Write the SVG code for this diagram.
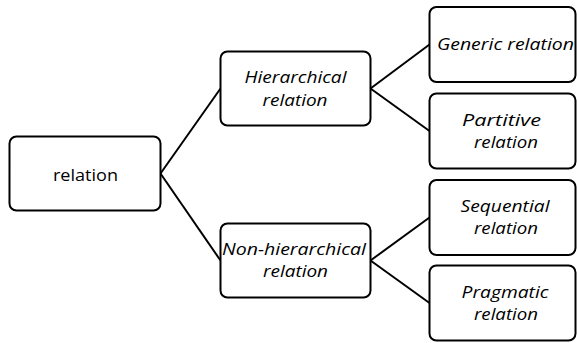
<svg xmlns="http://www.w3.org/2000/svg" width="577" height="343" viewBox="0 0 577 343">
  <style>
    .box { fill: #ffffff; stroke: #000000; stroke-width: 2; }
    .edge { fill: none; stroke: #000000; stroke-width: 2; }
    text { font-family: "Open Sans", "Liberation Sans", sans-serif; font-size: 17px; fill: #000000; text-anchor: middle; }
    .it { font-style: italic; }
  </style>
  <rect width="577" height="343" fill="#ffffff"/>

  <!-- tree connectors -->
  <g id="connectors">
    <line class="edge" x1="160.5" y1="173.5" x2="220.5" y2="88.5"/>
    <line class="edge" x1="160.5" y1="173.5" x2="220.5" y2="260.5"/>
    <line class="edge" x1="370.5" y1="88.5" x2="429.5" y2="44.5"/>
    <line class="edge" x1="370.5" y1="88.5" x2="429.5" y2="131"/>
    <line class="edge" x1="370.5" y1="260.5" x2="429.5" y2="217.5"/>
    <line class="edge" x1="370.5" y1="260.5" x2="429.5" y2="303"/>
  </g>

  <g id="relation">
    <rect class="box" x="9.5" y="136.5" width="151" height="74" rx="7"/>
    <text x="85.5" y="181" textLength="65" lengthAdjust="spacingAndGlyphs">relation</text>
  </g>

  <g id="hierarchical">
    <rect class="box" x="220.5" y="51.5" width="150" height="74" rx="7"/>
    <text class="it" x="295.5" y="83" textLength="102" lengthAdjust="spacingAndGlyphs">Hierarchical</text>
    <text class="it" x="295" y="105.5" textLength="65" lengthAdjust="spacingAndGlyphs">relation</text>
  </g>

  <g id="non-hierarchical">
    <rect class="box" x="220.5" y="223.5" width="150" height="74" rx="7"/>
    <text class="it" x="294" y="255" textLength="144" lengthAdjust="spacingAndGlyphs">Non-hierarchical</text>
    <text class="it" x="295.5" y="277" textLength="65" lengthAdjust="spacingAndGlyphs">relation</text>
  </g>

  <g id="generic">
    <rect class="box" x="429.5" y="7" width="146" height="75" rx="7"/>
    <text class="it" x="505.5" y="49.5" textLength="137" lengthAdjust="spacingAndGlyphs">Generic relation</text>
  </g>

  <g id="partitive">
    <rect class="box" x="429.5" y="93.5" width="146" height="75" rx="7"/>
    <text class="it" x="501.5" y="126" textLength="79" lengthAdjust="spacingAndGlyphs">Partitive</text>
    <text class="it" x="506" y="147.5" textLength="64" lengthAdjust="spacingAndGlyphs">relation</text>
  </g>

  <g id="sequential">
    <rect class="box" x="429.5" y="180" width="146" height="75" rx="7"/>
    <text class="it" x="505" y="212" textLength="89" lengthAdjust="spacingAndGlyphs">Sequential</text>
    <text class="it" x="506" y="234" textLength="64" lengthAdjust="spacingAndGlyphs">relation</text>
  </g>

  <g id="pragmatic">
    <rect class="box" x="429.5" y="265.5" width="146" height="75" rx="7"/>
    <text class="it" x="505" y="297.5" textLength="87" lengthAdjust="spacingAndGlyphs">Pragmatic</text>
    <text class="it" x="506" y="320" textLength="64" lengthAdjust="spacingAndGlyphs">relation</text>
  </g>
</svg>
